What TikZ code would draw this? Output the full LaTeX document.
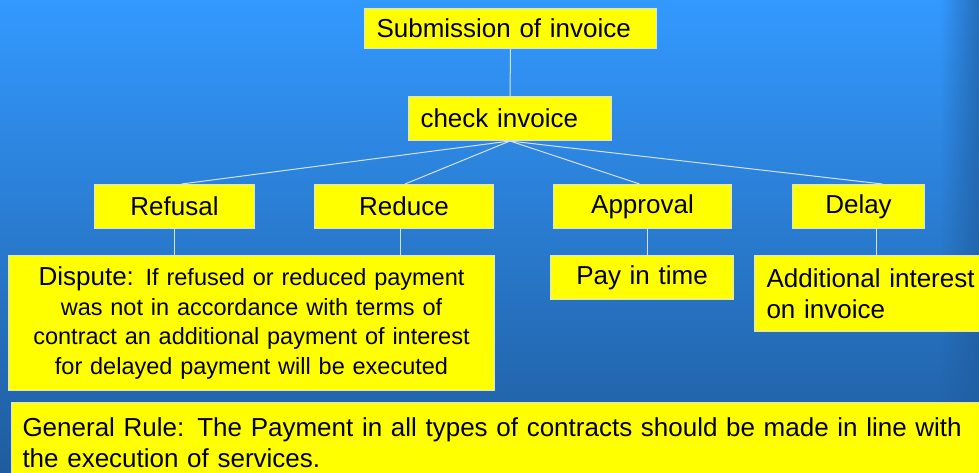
\documentclass[tikz,border=0pt]{standalone}
\usepackage{fontspec}
\setmainfont{Liberation Sans}
\usetikzlibrary{fadings}

\definecolor{skytop}{RGB}{51,153,255}
\definecolor{skybottom}{RGB}{31,92,158}
\definecolor{boxyellow}{RGB}{255,255,0}
\definecolor{rim}{RGB}{215,225,238}

\tikzstyle{box} = [draw = rim, fill = boxyellow, line width = 1pt, inner xsep = 12pt, inner ysep = 0pt, anchor = north west, font = \fontsize{26}{31}\selectfont]
\tikzstyle{link} = [draw = rim, line width = 1pt]

\begin{document}
\begin{tikzpicture}[x = 1pt, y = -1pt]
        \useasboundingbox (0, 0) rectangle (979, 472);
        % Background
        \shade[top color = skytop, bottom color = skybottom] (0, 0) rectangle (979, 472);
        \fill[skybottom, opacity = 0.7, path fading = west] (940, 0) rectangle (979, 472);

        % Top levels
        \node[box, text width = 268pt, minimum height = 40pt, align = left] (sub) at (364, 8) {Submission of invoice};
        \node[box, text width = 179pt, minimum height = 44pt, align = left] (check) at (408, 96) {check invoice};

        % Outcomes
        \node[box, text width = 136pt, minimum height = 44pt, align = center] (refusal)  at (94, 184)  {Refusal};
        \node[box, text width = 155pt, minimum height = 44pt, align = center] (reduce)   at (314, 184) {Reduce};
        \node[box, text width = 154pt, minimum height = 44pt, align = center] (approval) at (553, 184) {Approval};
        \node[box, text width = 108pt, minimum height = 44pt, align = center] (delay)    at (792, 184) {Delay};

        % Consequences
        \node[box, text width = 462pt, minimum height = 135pt, align = center, font = \fontsize{23.5}{29.5}\selectfont] (dispute) at (8, 255)
          {{\fontsize{26}{29.5}\selectfont Dispute:} If refused or reduced payment\\
           was not in accordance with terms of\\
           contract an additional payment of interest\\
           for delayed payment will be executed};
        \node[box, text width = 159pt, minimum height = 44pt, align = center] (pay)    at (550, 255) {Pay in time};
        \node[box, text width = 216pt, minimum height = 76pt, align = left]   (addint) at (754, 255) {Additional interest\\on invoice};

        \node[box, text width = 976pt, minimum height = 80pt, align = left, inner xsep = 11pt] (rule) at (11, 402)
          {General Rule: The Payment in all types of contracts should be made in line with\\the execution of services.};

        % Connectors
        \draw[link] (sub.south) -- (check.north);
        \foreach \n/\dx in {refusal/7, reduce/1, approval/-3, delay/24}
        {
          \draw[link] (check.south) -- ([xshift = \dx pt]\n.north);
        }
        \foreach \n/\m/\dx in {refusal/dispute/0, reduce/dispute/-4, approval/pay/5, delay/addint/18}
        {
          \draw[link] ([xshift = \dx pt]\n.south) coordinate (top) -- (top |- \m.north);
        }
\end{tikzpicture}
\end{document}
